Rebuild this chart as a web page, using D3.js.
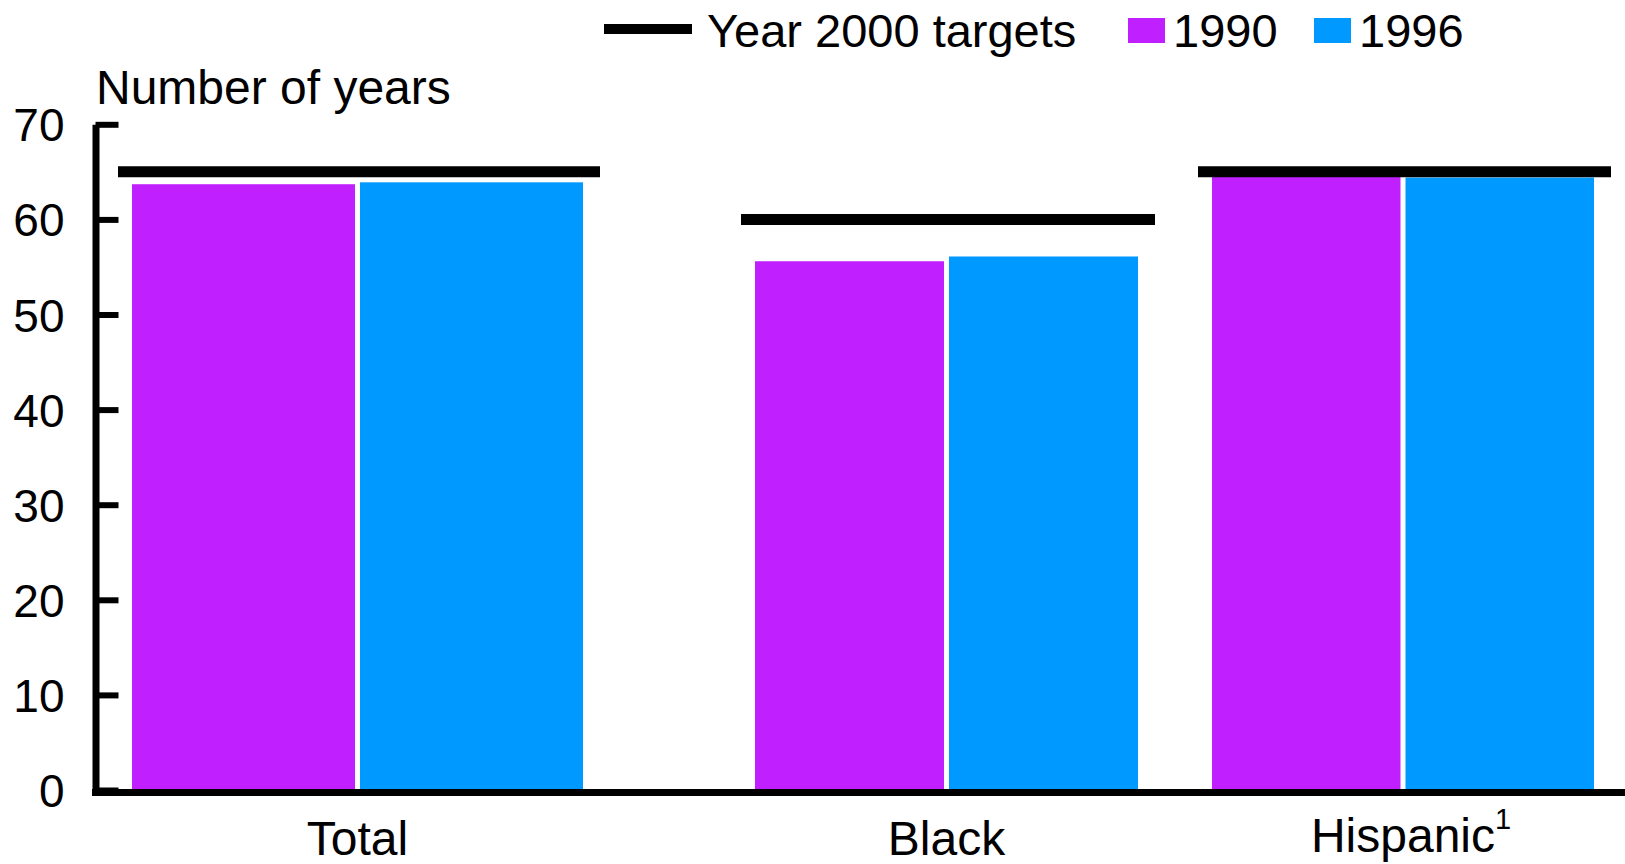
<!DOCTYPE html>
<html lang="en">
  <head>
    <meta charset="utf-8">
    <title>Number of years - targets</title>
    <style>
      body { margin: 0; background: #fff; }
      svg text { font-family: "Liberation Sans", Arial, sans-serif; fill: #000; }
    </style>
  </head>
  <body>
    <div id="chart"></div>

    <script src="https://cdn.jsdelivr.net/npm/d3@7"></script>
    <script>
      // values
      var categories = ["Total", "Black", "Hispanic"];
      var superscripts = ["", "", "1"];
      var values1990 = [63.7, 55.6, 64.6];
      var values1996 = [63.9, 56.1, 64.4];
      var targets = [65, 60, 65];
      var yTicks = [0, 10, 20, 30, 40, 50, 60, 70];

      var width = 1625, height = 864;
      var colors = {"1990": "#c020ff", "1996": "#0099ff"};

      var svg = d3.select("#chart").append("svg")
          .attr("width", width)
          .attr("height", height);

      var y = d3.scaleLinear().domain([0, 70]).range([790, 124.3]);

      // groups are not evenly spaced in the original, so a polylinear scale
      // maps group i to [x(2i), x(2i+1)]
      var x = d3.scaleLinear()
          .domain([0, 1, 2, 3, 4, 5])
          .range([132, 583, 755, 1138, 1212, 1594]);
      var gap = 5;

      var rows = categories.map(function(c, i) {
        return {cat: c, sup: superscripts[i], v1990: values1990[i], v1996: values1996[i], target: targets[i], i: i};
      });

      // bars
      var bars = [];
      rows.forEach(function(d) {
        bars.push({year: "1990", x0: x(2 * d.i), x1: x(2 * d.i + 0.5) - gap / 2, v: d.v1990});
        bars.push({year: "1996", x0: x(2 * d.i + 0.5) + gap / 2, x1: x(2 * d.i + 1), v: d.v1996});
      });

      svg.append("g").selectAll("rect")
          .data(bars)
          .enter()
          .append("rect")
            .attr("x", function(d) { return d.x0; })
            .attr("width", function(d) { return d.x1 - d.x0; })
            .attr("y", function(d) { return y(d.v); })
            .attr("height", function(d) { return y(0) - y(d.v); })
            .attr("fill", function(d) { return colors[d.year]; });

      // target lines
      svg.append("g").selectAll("line")
          .data(rows)
          .enter()
          .append("line")
            .attr("x1", function(d) { return x(2 * d.i) - 14; })
            .attr("x2", function(d) { return x(2 * d.i + 1) + 17; })
            .attr("y1", function(d) { return y(d.target); })
            .attr("y2", function(d) { return y(d.target); })
            .attr("stroke", "#000")
            .attr("stroke-width", 11);

      // y axis, ticks pointing inwards
      var yAxis = d3.axisLeft(y)
          .tickValues(yTicks)
          .tickSizeInner(-23)
          .tickSizeOuter(0)
          .tickPadding(31);

      var gy = svg.append("g")
          .attr("transform", "translate(95.5,0)")
          .call(yAxis);
      gy.select(".domain").attr("stroke", "#000").attr("stroke-width", 7);
      gy.selectAll(".tick line").attr("stroke", "#000").attr("stroke-width", 6);
      gy.selectAll(".tick text")
          .attr("font-size", 46)
          .attr("fill", "#000")
          .style("font-family", "Liberation Sans, Arial, sans-serif")
          .attr("dy", "0.36em");

      // x axis baseline
      svg.append("line")
          .attr("x1", 92).attr("x2", width)
          .attr("y1", y(0) + 2.5).attr("y2", y(0) + 2.5)
          .attr("stroke", "#000")
          .attr("stroke-width", 7);

      // category labels
      var labels = svg.append("g").selectAll("text")
          .data(rows)
          .enter()
          .append("text")
            .attr("x", function(d) { return x(2 * d.i + 0.5); })
            .attr("y", function(d) { return d.sup ? 852 : 855; })
            .attr("font-size", 48)
            .attr("text-anchor", "middle");
      labels.append("tspan").text(function(d) { return d.cat; });
      labels.filter(function(d) { return d.sup; })
          .append("tspan")
            .attr("font-size", 29)
            .attr("dy", -23)
            .text(function(d) { return d.sup; });
      // keep the main word centred, the superscript hangs off the right
      labels.filter(function(d) { return d.sup; })
          .attr("text-anchor", "start")
          .attr("x", function(d) {
            var w = this.firstChild.getComputedTextLength();
            return x(2 * d.i + 0.5) - w / 2;
          });

      // axis title
      svg.append("text")
          .attr("x", 96)
          .attr("y", 104)
          .attr("font-size", 48)
          .text("Number of years");

      // legend
      var legend = svg.append("g");
      legend.append("line")
          .attr("x1", 604).attr("x2", 692)
          .attr("y1", 29).attr("y2", 29)
          .attr("stroke", "#000")
          .attr("stroke-width", 10);
      legend.append("text")
          .attr("x", 707).attr("y", 47)
          .attr("font-size", 47)
          .text("Year 2000 targets");

      var legendItems = [{year: "1990", x: 1128}, {year: "1996", x: 1314}];
      legendItems.forEach(function(d) {
        legend.append("rect")
            .attr("x", d.x).attr("y", 18)
            .attr("width", 37).attr("height", 25)
            .attr("fill", colors[d.year]);
        legend.append("text")
            .attr("x", d.x + 45).attr("y", 47)
            .attr("font-size", 47)
            .text(d.year);
      });
    </script>
  </body>
</html>
